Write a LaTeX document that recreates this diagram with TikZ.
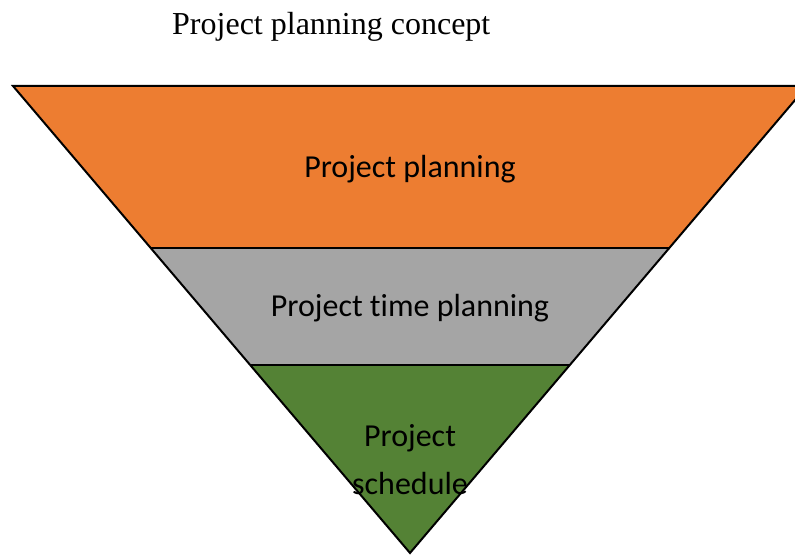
\documentclass[tikz,border=0pt]{standalone}
\usepackage{fontspec}
\setmainfont{Liberation Serif}
\newfontfamily\calib[Ligatures={NoCommon}]{Carlito}
\definecolor{orangeA}{HTML}{ED7D31}
\definecolor{grayA}{HTML}{A5A5A5}
\definecolor{greenA}{HTML}{548235}
\begin{document}
\begin{tikzpicture}[x=1bp,y=-1bp,
  band/.style={draw=black,line width=2bp,line join=miter},
  lbl/.style={font=\calib\fontsize{32bp}{38bp}\selectfont,anchor=base,inner sep=0pt},
  ttl/.style={font=\fontsize{32bp}{38bp}\selectfont,anchor=base west,inner sep=0pt}]
\useasboundingbox (0,0) rectangle (795,555);
\clip (0,0) rectangle (795,555);
\coordinate (tl) at (13,86);
\coordinate (tr) at (807,86);
\coordinate (ml1) at (150.4,248);
\coordinate (mr1) at (669.6,248);
\coordinate (ml2) at (249.9,365);
\coordinate (mr2) at (570.1,365);
\coordinate (apex) at (410,553);
\fill[orangeA] (tl) -- (tr) -- (mr1) -- (ml1) -- cycle;
\fill[grayA] (ml1) -- (mr1) -- (mr2) -- (ml2) -- cycle;
\fill[greenA] (ml2) -- (mr2) -- (apex) -- cycle;
\draw[band] (tl) -- (tr) -- (apex) -- cycle;
\draw[band] (ml1) -- (mr1);
\draw[band] (ml2) -- (mr2);
\node[ttl] (title) at (172,35) {Project planning concept};
\node[lbl] (pp) at (410,178) {Project planning};
\node[lbl] (ptp) at (410,317) {Project time planning};
\node[lbl] (ps1) at (410,446) {Project};
\node[lbl] (ps2) at (410,494) {schedule};
\end{tikzpicture}
\end{document}
